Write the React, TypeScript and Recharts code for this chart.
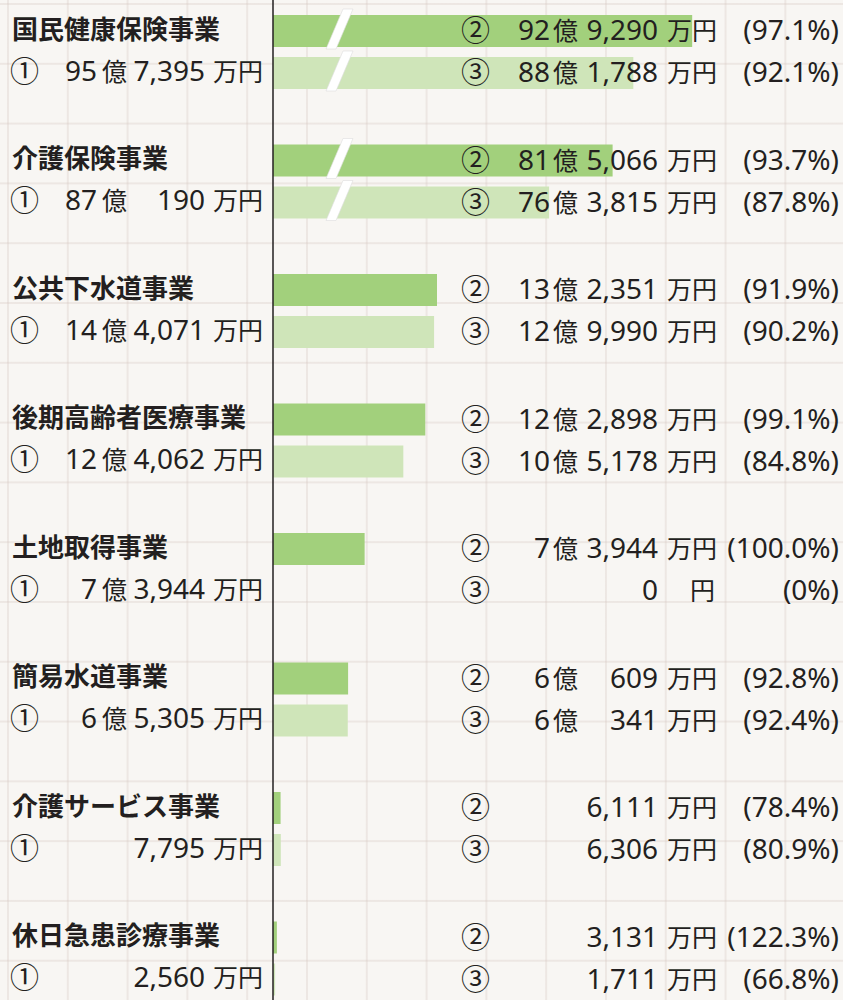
import React from "react";
import { BarChart, Bar, XAxis, YAxis, LabelList } from "recharts";

const categories = [
  "国民健康保険事業",
  "介護保険事業",
  "公共下水道事業",
  "後期高齢者医療事業",
  "土地取得事業",
  "簡易水道事業",
  "介護サービス事業",
  "休日急患診療事業",
];

// amounts in 万円
const budget = [957395, 870190, 144071, 124062, 73944, 65305, 7795, 2560];
const settled2 = [929290, 815066, 132351, 122898, 73944, 60609, 6111, 3131];
const settled3 = [881788, 763815, 129990, 105178, 0, 60341, 6306, 1711];
const rate2 = ["97.1%", "93.7%", "91.9%", "99.1%", "100.0%", "92.8%", "78.4%", "122.3%"];
const rate3 = ["92.1%", "87.8%", "90.2%", "84.8%", "0%", "92.4%", "80.9%", "66.8%"];

// part of the long bars left out (broken bars)
const cutOff = [591000, 541000, 0, 0, 0, 0, 0, 0];

const rows = categories.map((name, i) => ({
  name,
  budget: budget[i],
  v2: settled2[i],
  v3: settled3[i],
  r2: rate2[i],
  r3: rate3[i],
  cut: cutOff[i],
  shown2: settled2[i] - cutOff[i],
  shown3: settled3[i] - cutOff[i],
}));

const CJK = '"Noto Sans CJK JP", "Noto Sans", sans-serif';
const NUM = '"Noto Sans", "Open Sans", sans-serif';
const INK = "#231f20";
const DARK = "#a2d07c";
const LIGHT = "#cfe5b9";

const comma = (n: number) => n.toLocaleString("en-US");

type Cols = { okuEnd: number; okuX: number; manEnd: number; unitX: number; yenX: number };

const leftCols: Cols = { okuEnd: 97, okuX: 102, manEnd: 205, unitX: 213, yenX: 238 };
const rightCols: Cols = { okuEnd: 550, okuX: 553, manEnd: 658, unitX: 667, yenX: 690 };

const jp = { fontFamily: CJK, fontSize: 25, fill: INK };
const num = { fontFamily: NUM, fontSize: 28, fill: INK };
const circ = { fontFamily: CJK, fontSize: 29, fill: INK };

const Money = ({ v, y, c }: { v: number; y: number; c: Cols }) => {
  const oku = Math.floor(v / 10000);
  const man = v % 10000;
  const ty = y + 9;
  if (v === 0) {
    return (
      <g>
        <text x={c.manEnd} y={ty} textAnchor="end" {...num}>0</text>
        <text x={c.yenX} y={ty} {...jp}>円</text>
      </g>
    );
  }
  return (
    <g>
      {oku > 0 && (
        <>
          <text x={c.okuEnd} y={ty} textAnchor="end" {...num}>{oku}</text>
          <text x={c.okuX} y={ty} {...jp}>億</text>
        </>
      )}
      {man > 0 && (
        <text x={c.manEnd} y={ty} textAnchor="end" {...num}>{comma(man)}</text>
      )}
      <text x={c.unitX} y={ty} {...jp}>万円</text>
    </g>
  );
};

const LeftTick = (props: any) => {
  const { y, payload } = props;
  const row = rows.find((r) => r.name === payload.value);
  if (!row) return null;
  const y2 = y - 22;
  const y3 = y + 20;
  return (
    <g>
      <text x={12} y={y2 + 9} fontFamily={CJK} fontSize={26} fontWeight={700} fill={INK}>
        {row.name}
      </text>
      <text x={10} y={y3 + 10} {...circ}>①</text>
      <Money v={row.budget} y={y3} c={leftCols} />
    </g>
  );
};

const rightLabel = (mark: string, key: "v2" | "v3", rateKey: "r2" | "r3") => (props: any) => {
  const vb = props.viewBox || props;
  const row = rows.find((r) => r.name === props.value);
  if (!row) return null;
  const cy = vb.y + vb.height / 2;
  return (
    <g>
      <text x={461} y={cy + 10} {...circ}>{mark}</text>
      <Money v={row[key]} y={cy} c={rightCols} />
      <text x={839} y={cy + 9} textAnchor="end" {...num}>
        ({row[rateKey]})
      </text>
    </g>
  );
};

const BrokenBar = (props: any) => {
  const { x, y, width, height, fill, payload } = props;
  if (width == null || width <= 0) return null;
  return (
    <g>
      <rect x={x} y={y} width={width} height={height} fill={fill} />
      {payload && payload.cut > 0 && (
        <polygon
          points={`${x + 70},${y - 6} ${x + 80},${y - 6} ${x + 63},${y + height + 2} ${x + 53},${y + height + 2}`}
          fill="#ffffff"
          stroke="#dedede"
          strokeWidth={0.6}
        />
      )}
    </g>
  );
};

export default function App() {
  return (
    <div
      style={{
        position: "absolute",
        left: 0,
        top: 0,
        width: 843,
        height: 1000,
        overflow: "hidden",
        backgroundColor: "#f8f6f3",
        backgroundImage:
          "linear-gradient(to right, rgba(214,200,194,0.33) 2px, transparent 2px), linear-gradient(to bottom, rgba(214,200,194,0.33) 2px, transparent 2px)",
        backgroundSize: "59.8px 59.8px",
        backgroundPosition: "7px 3px",
      }}
    >
      <div style={{ position: "absolute", left: 0, top: -13 }}>
        <BarChart
          width={843}
          height={1036}
          data={rows}
          layout="vertical"
          margin={{ top: 0, right: 0, left: 0, bottom: 0 }}
          barSize={32}
          barGap={10}
        >
          <XAxis type="number" hide domain={[0, 460000]} allowDataOverflow />
          <YAxis
            type="category"
            dataKey="name"
            width={273}
            interval={0}
            tickLine={false}
            axisLine={{ stroke: INK, strokeWidth: 1.5 }}
            tick={<LeftTick />}
          />
          <Bar dataKey="shown2" fill={DARK} isAnimationActive={false} shape={<BrokenBar />}>
            <LabelList dataKey="name" content={rightLabel("②", "v2", "r2")} />
          </Bar>
          <Bar dataKey="shown3" fill={LIGHT} isAnimationActive={false} shape={<BrokenBar />}>
            <LabelList dataKey="name" content={rightLabel("③", "v3", "r3")} />
          </Bar>
        </BarChart>
      </div>
    </div>
  );
}
